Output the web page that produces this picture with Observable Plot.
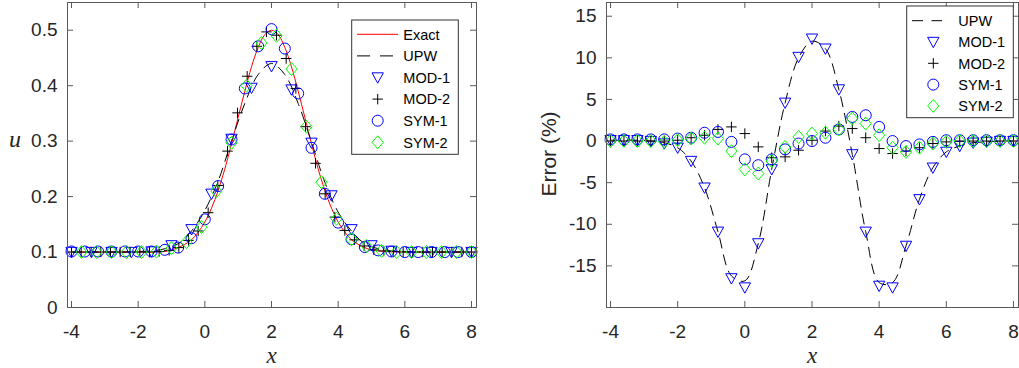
<!DOCTYPE html>
<html>
<head>
<meta charset="utf-8">
<script src="https://cdn.jsdelivr.net/npm/d3@7"></script>
<script src="https://cdn.jsdelivr.net/npm/@observablehq/plot@0.6"></script>
<style>
  body { margin: 0; background: #fff; }
  #wrap { display: flex; flex-direction: row; width: 1019px; height: 368px; }
</style>
</head>
<body>
<div id="wrap"></div>
<script>
// ---------- data (left panel: solution u) ----------
const exactX = [-4,-3,-2,-1.6,-1.2,-1.0,-0.8,-0.6,-0.4,-0.2,0,0.2,0.4,0.6,0.8,1.0,1.2,1.4,1.6,1.8,2.0,2.2,2.4,2.6,2.8,3.0,3.2,3.4,3.6,3.8,4.0,4.2,4.4,4.6,4.8,5.0,5.4,6,7,8];
const exactU = [0.100,0.100,0.100,0.100,0.101,0.104,0.108,0.114,0.122,0.136,0.154,0.179,0.211,0.250,0.295,0.343,0.390,0.434,0.469,0.492,0.500,0.492,0.469,0.434,0.390,0.343,0.295,0.250,0.211,0.179,0.154,0.136,0.122,0.114,0.108,0.104,0.101,0.100,0.100,0.100];

const grid04 = [-4,-3.6,-3.2,-2.8,-2.4,-2.0,-1.6,-1.2,-0.8,-0.4,0,0.4,0.8,1.2,1.6,2.0,2.4,2.8,3.2,3.6,4.0,4.4,4.8,5.2,5.6,6.0,6.4,6.8,7.2,7.6,8.0];
const upwU = [0.100,0.100,0.100,0.100,0.100,0.101,0.102,0.106,0.115,0.138,0.175,0.228,0.300,0.368,0.420,0.440,0.420,0.368,0.298,0.226,0.172,0.138,0.115,0.106,0.102,0.101,0.100,0.100,0.100,0.100,0.100];

const mod1X = [-4,-3.4,-2.8,-2.2,-1.6,-1.0,-0.4,0.2,0.8,1.4,2.0,2.6,3.2,3.8,4.4,5.0,5.6,6.2,6.8,7.4,8.0];
const mod1U = [0.100,0.100,0.100,0.100,0.101,0.112,0.141,0.205,0.304,0.396,0.435,0.393,0.297,0.202,0.141,0.112,0.102,0.100,0.100,0.100,0.100];

const mod2X = [-4.00,-3.71,-3.41,-3.12,-2.83,-2.54,-2.24,-1.95,-1.66,-1.37,-1.07,-0.78,-0.49,-0.20,0.10,0.39,0.68,0.98,1.27,1.56,1.85,2.15,2.44,2.73,3.02,3.32,3.61,3.90,4.20,4.49,4.78,5.07,5.37,5.66,5.95,6.24,6.54,6.83,7.12,7.41,7.71,8.00];
const mod2U = [0.100,0.100,0.100,0.100,0.100,0.100,0.100,0.100,0.100,0.101,0.103,0.108,0.121,0.138,0.171,0.220,0.282,0.351,0.417,0.471,0.497,0.491,0.449,0.395,0.326,0.260,0.205,0.163,0.139,0.122,0.111,0.104,0.102,0.101,0.100,0.100,0.100,0.100,0.100,0.100,0.100,0.100];

const sym1U = [0.101,0.101,0.101,0.101,0.101,0.101,0.101,0.104,0.108,0.125,0.159,0.219,0.303,0.395,0.471,0.502,0.467,0.386,0.288,0.205,0.153,0.123,0.109,0.103,0.101,0.100,0.100,0.100,0.100,0.100,0.100];

const sym2X = [-3.70,-3.25,-2.80,-2.35,-1.90,-1.45,-1.00,-0.55,-0.10,0.35,0.80,1.25,1.70,2.15,2.60,3.05,3.50,3.95,4.40,4.85,5.30,5.75,6.20,6.65,7.10,7.55,8.00];
const sym2U = [0.100,0.100,0.100,0.100,0.100,0.101,0.107,0.118,0.145,0.210,0.297,0.400,0.477,0.490,0.430,0.326,0.226,0.160,0.123,0.111,0.102,0.100,0.100,0.100,0.100,0.100,0.100];

// ---------- data (right panel: error %) ----------
const upwErr  = [0.1,0.1,0.1,0.0,-0.2,-0.8,-2.4,-5.6,-10.9,-16.2,-16.8,-12.3,-3.4,4.6,10.0,12.0,11.1,6.2,-1.6,-10.9,-17.0,-17.0,-12.6,-7.0,-3.2,-1.3,-0.6,-0.2,-0.1,0.0,0.0];
const mod1Err = [0.1,0.1,0.1,0.0,-0.3,-0.8,-2.4,-5.6,-10.9,-16.5,-17.6,-12.3,-3.4,4.6,10.1,12.3,11.1,6.2,-1.6,-10.9,-17.4,-17.6,-12.6,-7.0,-3.2,-1.3,-0.6,-0.2,-0.1,0.0,0.0];
const mod2Err = [0.0,0.0,0.0,0.0,0.0,0.1,0.4,0.7,1.4,1.7,0.9,-0.7,-2.0,-1.9,-1.1,0.1,1.2,1.8,1.5,0.4,-0.9,-1.5,-1.2,-0.8,-0.3,-0.1,0.0,0.0,0.0,0.0,0.0];
const sym1Err = [0.2,0.2,0.2,0.2,0.2,0.3,0.4,1.0,1.1,-0.1,-2.2,-2.9,-2.2,-1.0,-0.3,0.0,0.4,1.4,2.9,3.1,1.7,0.0,-0.6,-0.4,-0.1,0.1,0.1,0.1,0.1,0.1,0.1];
const sym2Err = [0.0,0.0,0.0,0.0,-0.1,0.1,0.3,0.4,0.3,-1.2,-3.4,-3.9,-2.4,-0.7,0.5,0.9,1.0,1.4,2.7,2.1,0.7,-0.8,-1.3,-0.8,-0.3,-0.1,0.0,0.0,0.0,0.0,0.0];

const xTicks = [-4,-2,0,2,4,6,8];
const uTicks = [0,0.1,0.2,0.3,0.4,0.5];
const errTicks = [-15,-10,-5,0,5,10,15];
const leftLegend = ["Exact","UPW","MOD-1","MOD-2","SYM-1","SYM-2"];
const rightLegend = ["UPW","MOD-1","MOD-2","SYM-1","SYM-2"];

// ---------- helpers ----------
const pts = (xs, ys) => xs.map((x, i) => ({x, y: ys[i]}));
const rad = s => Math.sqrt(s / Math.PI);
const triDown = {draw(c, s){ const r = rad(s); c.moveTo(-r*1.03, -r*0.85); c.lineTo(r*1.03, -r*0.85); c.lineTo(0, r*1.03); c.closePath(); }};
const plusSym = {draw(c, s){ const r = rad(s)*0.95; c.moveTo(-r, 0); c.lineTo(r, 0); c.moveTo(0, -r); c.lineTo(0, r); }};
const circSym = {draw(c, s){ const r = rad(s); c.moveTo(r, 0); c.arc(0, 0, r, 0, 2*Math.PI); c.closePath(); }};
const diamSym = {draw(c, s){ const r = rad(s); c.moveTo(0, -r*1.18); c.lineTo(r*1.02, 0); c.lineTo(0, r*1.18); c.lineTo(-r*1.02, 0); c.closePath(); }};

const BLUE = "#0000ff", GREEN = "#00ff00", RED = "#ff0000", BLACK = "#000000";
const AX = "#5a5a5a", TXT = "#262626";
const FONT = "'Liberation Sans', Arial, Helvetica, sans-serif";
const SERIF = "'Liberation Serif', 'DejaVu Serif', serif";
const R = 5.5;
const DASH = "10,7";

const series = {
  "Exact": {line: RED},
  "UPW":   {line: BLACK, dash: true},
  "MOD-1": {sym: triDown, color: BLUE},
  "MOD-2": {sym: plusSym, color: BLACK},
  "SYM-1": {sym: circSym, color: BLUE},
  "SYM-2": {sym: diamSym, color: GREEN}
};

function frameMarks(xt, yt, ih, iw, yfmt) {
  return [
    Plot.frame({stroke: AX, strokeWidth: 1}),
    Plot.tickX(xt, {x: d => d, insetTop: ih - 6, stroke: AX}),
    Plot.tickX(xt, {x: d => d, insetBottom: ih - 6, stroke: AX}),
    Plot.tickY(yt, {y: d => d, insetRight: iw - 6, stroke: AX}),
    Plot.tickY(yt, {y: d => d, insetLeft: iw - 6, stroke: AX}),
    Plot.axisX(xt, {tickSize: 0, tickPadding: 17, label: null, tickFormat: d => String(d), fontSize: 19, fill: TXT}),
    Plot.axisY(yt, {tickSize: 0, tickPadding: 10, label: null, tickFormat: yfmt, fontSize: 19, fill: TXT})
  ];
}

function dotMark(data, name) {
  const s = series[name];
  return Plot.dot(data, {x: "x", y: "y", symbol: s.sym, r: R, stroke: s.color, fill: "none", strokeWidth: 1});
}

function addLegend(svg, names, box, rowY0, rowStep, lineX0, lineX1, markX, textX, dash) {
  const g = d3.select(svg).append("g").attr("text-anchor", "start");
  g.append("rect").attr("x", box[0]).attr("y", box[1]).attr("width", box[2] - box[0]).attr("height", box[3] - box[1])
    .attr("fill", "white").attr("stroke", "#333").attr("stroke-width", 1);
  names.forEach((n, i) => {
    const y = rowY0 + i * rowStep;
    const s = series[n];
    if (s.line) {
      g.append("line").attr("x1", lineX0).attr("x2", lineX1).attr("y1", y).attr("y2", y)
        .attr("stroke", s.line).attr("stroke-width", 1).attr("stroke-dasharray", s.dash ? dash : null);
    } else {
      g.append("path").attr("d", d3.symbol(s.sym, Math.PI * R * R)())
        .attr("transform", `translate(${markX},${y})`).attr("fill", "none").attr("stroke", s.color).attr("stroke-width", 1);
    }
    g.append("text").attr("x", textX).attr("y", y).attr("dy", "0.36em").attr("text-anchor", "start").text(n)
      .attr("font-family", FONT).attr("font-size", 14.5).attr("fill", "#000");
  });
}

function addText(svg, x, y, txt, font, size, italic, transform) {
  const t = d3.select(svg).append("text").attr("text-anchor", "middle")
    .attr("font-family", font).attr("font-size", size).attr("fill", TXT).text(txt);
  if (italic) t.attr("font-style", "italic");
  if (transform) t.attr("transform", transform); else t.attr("x", x).attr("y", y);
}

// ---------- left plot ----------
const LW = 510, LH = 368, lm = {t: 2, r: 34, b: 61, l: 67};
const lih = LH - lm.t - lm.b, liw = LW - lm.l - lm.r;
const left = Plot.plot({
  width: LW, height: LH,
  marginTop: lm.t, marginRight: lm.r, marginBottom: lm.b, marginLeft: lm.l,
  style: {fontFamily: FONT, fontSize: "19px", color: TXT, background: "white", overflow: "visible"},
  x: {domain: [-4.12, 8.15]},
  y: {domain: [0, 0.55]},
  marks: [
    Plot.line(pts(exactX, exactU), {x: "x", y: "y", stroke: RED, strokeWidth: 1, curve: "catmull-rom"}),
    Plot.line(pts(grid04, upwU), {x: "x", y: "y", stroke: BLACK, strokeWidth: 1, strokeDasharray: DASH, curve: "catmull-rom"}),
    dotMark(pts(mod1X, mod1U), "MOD-1"),
    dotMark(pts(mod2X, mod2U), "MOD-2"),
    dotMark(pts(grid04, sym1U), "SYM-1"),
    dotMark(pts(sym2X, sym2U), "SYM-2"),
    ...frameMarks(xTicks, uTicks, lih, liw, d => String(d))
  ]
});
addLegend(left, leftLegend, [351.7, 20, 458.3, 154.3], 34.3, 21.6, 357, 398, 377.7, 403.3, "13,10");
addText(left, 271.5, 363, "x", SERIF, 23, true);
addText(left, 15, 146.5, "u", SERIF, 24, true);

// ---------- right plot ----------
const RW = 509, RH = 368, rm = {t: 2, r: 1, b: 61, l: 96};
const rih = RH - rm.t - rm.b, riw = RW - rm.l - rm.r;
const right = Plot.plot({
  width: RW, height: RH,
  marginTop: rm.t, marginRight: rm.r, marginBottom: rm.b, marginLeft: rm.l,
  style: {fontFamily: FONT, fontSize: "19px", color: TXT, background: "white", overflow: "visible"},
  x: {domain: [-4.12, 8.15]},
  y: {domain: [-20, 16.65]},
  marks: [
    Plot.line(pts(grid04, upwErr), {x: "x", y: "y", stroke: BLACK, strokeWidth: 1, strokeDasharray: DASH, curve: "catmull-rom"}),
    dotMark(pts(grid04, mod1Err), "MOD-1"),
    dotMark(pts(grid04, mod2Err), "MOD-2"),
    dotMark(pts(grid04, sym1Err), "SYM-1"),
    dotMark(pts(grid04, sym2Err), "SYM-2"),
    ...frameMarks(xTicks, errTicks, rih, riw, d => String(d))
  ]
});
addLegend(right, rightLegend, [396.7, 6, 503.3, 117.7], 20.7, 21.3, 402, 432, 423.3, 448.3, "11,8.5");
addText(right, 302, 363, "x", SERIF, 23, true);
addText(right, 0, 0, "Error (%)", FONT, 21, false, "translate(46,154) rotate(-90)");

const wrap = document.getElementById("wrap");
wrap.appendChild(left);
wrap.appendChild(right);
</script>
</body>
</html>
